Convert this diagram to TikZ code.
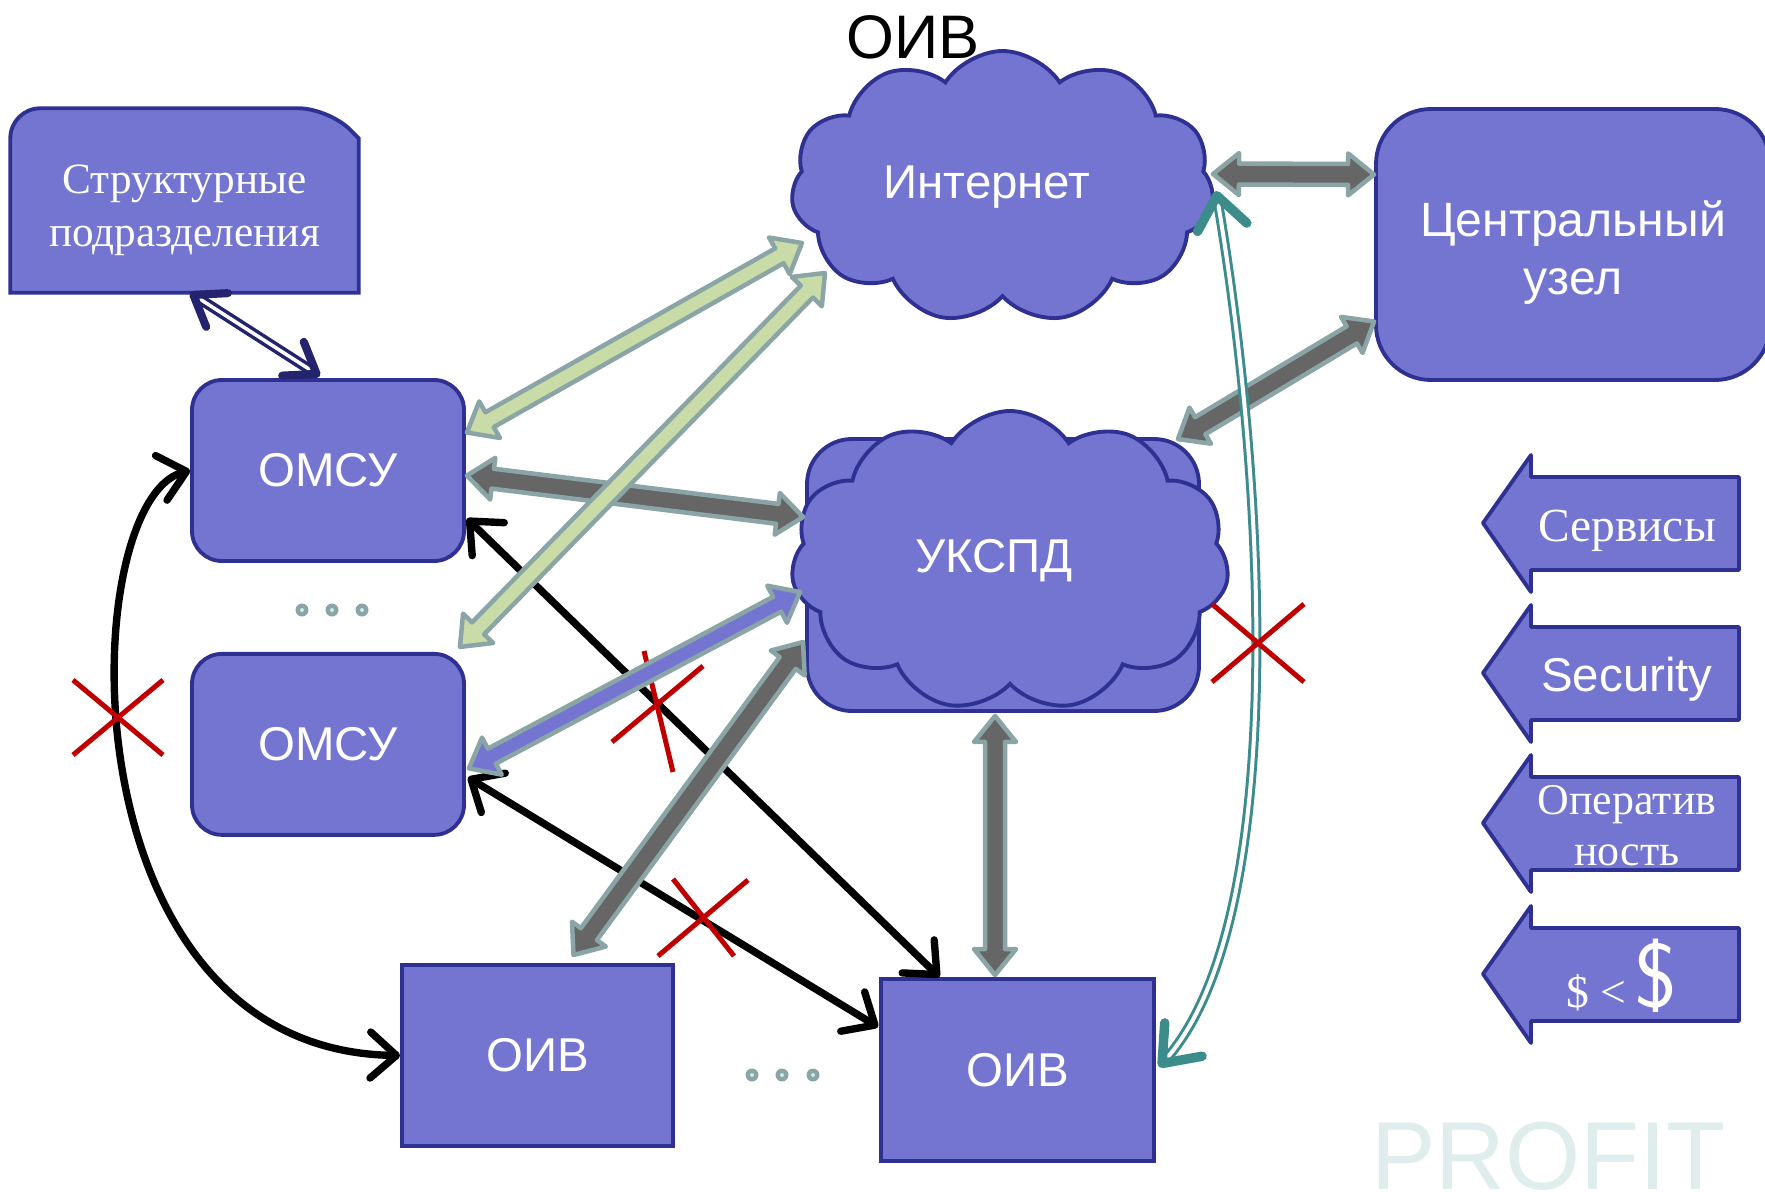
\documentclass[tikz,border=0pt]{standalone}
\usepackage{fontspec}
\setmainfont{Liberation Sans}
\newfontfamily\serifru{Liberation Serif}
\usetikzlibrary{arrows.meta,calc,positioning,shapes.symbols,backgrounds}

\definecolor{boxfill}{RGB}{116,117,208}
\definecolor{boxline}{RGB}{46,49,146}
\definecolor{rimgray}{RGB}{139,165,167}
\definecolor{pipegray}{RGB}{102,102,102}
\definecolor{pipegreen}{RGB}{201,219,167}
\definecolor{crossred}{RGB}{192,0,0}
\definecolor{tealline}{RGB}{61,140,140}
\definecolor{navyline}{RGB}{35,35,110}
\definecolor{dotcenter}{RGB}{200,235,235}
\definecolor{markfaint}{RGB}{224,237,237}

% fat two-headed pipe: style, shaft half width, head half width, from, to
\newcommand{\fatlink}[5]{%
  \draw[#1] let \p1=($(#5)-(#4)$), \n1={atan2(\y1,\x1)} in
    (#4) -- ($(#4)+(\n1:2.6mm)+(\n1+90:#3)$) -- ($(#4)+(\n1:2.6mm)+(\n1+90:#2)$)
    -- ($(#5)+(\n1+180:2.6mm)+(\n1+90:#2)$) -- ($(#5)+(\n1+180:2.6mm)+(\n1+90:#3)$)
    -- (#5) -- ($(#5)+(\n1+180:2.6mm)+(\n1-90:#3)$) -- ($(#5)+(\n1+180:2.6mm)+(\n1-90:#2)$)
    -- ($(#4)+(\n1:2.6mm)+(\n1-90:#2)$) -- ($(#4)+(\n1:2.6mm)+(\n1-90:#3)$) -- cycle;}

\begin{document}
\begin{tikzpicture}[x=0.1mm,y=-0.1mm,
  box/.style={draw=boxline,fill=boxfill,line width=1.1pt,text=white,align=center,inner sep=0pt,font=\fontsize{13.5}{16}\selectfont},
  rbox/.style={box,rounded corners=3mm},
  puff/.style={box,cloud,cloud puffs=11,cloud puff arc=115,cloud ignores aspect},
  serifbox/.style={text=white,align=center,font=\serifru\fontsize{12.5}{14.5}\selectfont},
  pipegray/.style={fill=pipegray,draw=rimgray,line width=0.45mm,line join=round},
  pipegreen/.style={fill=pipegreen,draw=rimgray,line width=0.45mm,line join=round},
  pipeblue/.style={fill=boxfill,draw=rimgray,line width=0.45mm,line join=round},
  blink/.style={black,line width=2.1pt,>={Straight Barb[length=2.6mm,width=4.6mm,round]},<->},
  tlink/.style={tealline,double=white,double distance=0.4mm,line width=0.3mm,>={Straight Barb[length=3.2mm,width=5mm,line width=2.7pt,round]},<->},
  nlink/.style={navyline,double=white,double distance=0.35mm,line width=0.35mm,>={Straight Barb[length=2.8mm,width=4mm,line width=2.3pt,round]},<->},
  cross/.style={crossred,line width=0.5mm},
  sidearrow/.style={draw=boxline,fill=boxfill,line width=1.1pt,line join=round}]

\useasboundingbox (0,0) rectangle (1765,1191);

\node[minimum width=34.7mm,minimum height=18.3mm] (struct) at (184.5,200.5) {};
\begin{pgfonlayer}{background}
\draw[box] (struct.south west) [rounded corners=3mm] -- (struct.north west) -- ($(struct.north east)+(-30,0)$) [sharp corners] -- ($(struct.north east)+(0,30)$) -- (struct.south east) -- cycle;
\end{pgfonlayer}
\node[serifbox,font=\serifru\fontsize{12.3}{15}\selectfont] (structlbl) at (184.5,210) {Структурные\\подразделения};

\node[rbox,minimum width=27.2mm,minimum height=18.1mm] (omsuA) at (328,470.5) {ОМСУ};
\node[rbox,minimum width=27.2mm,minimum height=18.1mm,below=8.9mm of omsuA] (omsuB) {ОМСУ};
\node[box,minimum width=27.1mm,minimum height=18.1mm] (oivA) at (537.5,1055.5) {ОИВ};
\node[box,minimum width=27.3mm,minimum height=18.2mm] (oivB) at (1017.5,1070) {ОИВ};
\node[box,rounded corners=5.5mm,minimum width=39.4mm,minimum height=27.1mm] (centre) at (1573,244.5) {};
\node[text=white,align=center,font=\fontsize{13.7}{16.5}\selectfont] (centrelbl) at (1573,253) {Центральный\\узел};
\node[puff,minimum width=42.3mm,minimum height=27.2mm] (inet) at (1002.5,187) {\hspace*{-3.1mm}Интернет};
\node[box,rounded corners=4.5mm,minimum width=39.2mm,minimum height=27.2mm] (uksbase) at (1003,575) {};
\node[puff,minimum width=43.8mm,minimum height=30mm] (uks) at (1010,561) {\hspace*{-3.2mm}УКСПД};

% side arrows
\draw[sidearrow] (1483,523) -- ++(48,-68) -- ++(0,22) -- ++(208,0) -- ++(0,93) -- ++(-208,0) -- ++(0,22) -- cycle;
\draw[sidearrow] (1483,673) -- ++(48,-68) -- ++(0,22) -- ++(208,0) -- ++(0,93) -- ++(-208,0) -- ++(0,22) -- cycle;
\draw[sidearrow] (1483,823) -- ++(48,-68) -- ++(0,22) -- ++(208,0) -- ++(0,93) -- ++(-208,0) -- ++(0,22) -- cycle;
\draw[sidearrow] (1483,974) -- ++(48,-68) -- ++(0,22) -- ++(208,0) -- ++(0,93) -- ++(-208,0) -- ++(0,22) -- cycle;
\node[serifbox,font=\serifru\fontsize{13.5}{15}\selectfont] (svc) at (1627,531) {Сервисы};
\node[text=white,font=\fontsize{13.5}{16}\selectfont] (sec) at (1627,679) {Security};
\node[serifbox] (ops) at (1627,826) {Оператив\\ность};
\node[text=white,anchor=base,font=\serifru\fontsize{13}{15}\selectfont] (cost) at (1622,1007) {\$ <\,{\sffamily\fontsize{26}{26}\selectfont\$}};

% dots
\fill[rimgray] (302,610) circle (0.65mm) (332,610) circle (0.65mm) (362,610) circle (0.65mm);
\fill[rimgray] (752,1075) circle (0.65mm) (782,1075) circle (0.65mm) (813,1075) circle (0.65mm);
\fill[dotcenter] (302,610) circle (0.2mm) (332,610) circle (0.2mm) (362,610) circle (0.2mm);
\fill[dotcenter] (752,1075) circle (0.2mm) (782,1075) circle (0.2mm) (813,1075) circle (0.2mm);

% pipe ends
\coordinate (g1a) at ($(omsuA.east)+(1,-38)$);
\coordinate (g1b) at ($(inet.center)+(-200.5,56)$);
\coordinate (g2a) at ($(omsuB.north east)+(-6,-5)$);
\coordinate (g2b) at ($(inet.center)+(-177.5,86)$);
\coordinate (p1a) at ($(omsuA.east)+(1,5)$);
\coordinate (p1b) at ($(uksbase.west)+(-2,-58)$);
\coordinate (b1a) at ($(uksbase.west)+(-5,17)$);
\coordinate (b1b) at ($(omsuB.east)+(3,24)$);
\coordinate (p2a) at ($(uksbase.west)+(-2,67)$);
\coordinate (p2b) at ($(oivA.north)+(36,-8)$);
\coordinate (p3a) at ($(inet.center)+(210.5,-13)$);
\coordinate (p3b) at ($(centre.west)+(0,-70)$);
\coordinate (p4a) at ($(centre.west)+(0,77)$);
\coordinate (p4b) at ($(uksbase.north east)+(-23,2)$);
\coordinate (p5a) at ($(uksbase.south)+(-8,3)$);
\coordinate (p5b) at ($(oivB.north)+(-22.5,-2)$);

\draw[blink] ($(omsuA.east)+(1,48)$) -- ($(oivB.north)+(-78,0)$);
\draw[blink] ($(omsuB.east)+(2,33)$) -- ($(oivB.west)+(-1,-43)$);
\draw[blink] (omsuA.west) .. controls (75,500) and (60,1050) .. (oivA.west);

\draw[cross] (612,742) -- (703,666) (644,651) -- (673,772);

\fatlink{pipegray}{1mm}{2.1mm}{p1a}{p1b}
\fatlink{pipegreen}{0.85mm}{2.1mm}{g1a}{g1b}
\fatlink{pipegreen}{0.85mm}{2.1mm}{g2a}{g2b}
\fatlink{pipeblue}{0.85mm}{2.1mm}{b1a}{b1b}
\fatlink{pipegray}{1mm}{2.1mm}{p2a}{p2b}
\fatlink{pipegray}{1.05mm}{2.1mm}{p3a}{p3b}
\fatlink{pipegray}{1mm}{2.1mm}{p4a}{p4b}
\fatlink{pipegray}{1mm}{2.1mm}{p5a}{p5b}

\draw[tlink] ($(inet.center)+(213.5,4)$) .. controls (1265,480) and (1290,920) .. ($(oivB.east)+(3,-3)$);
\draw[nlink] ($(struct.south)+(5.5,0)$) -- ($(omsuA.north)+(-8,-2)$);

\draw[cross] (673,879) -- (734,956) (748,880) -- (658,956);
\draw[cross] (73,680) -- (163,755) (73,755) -- (163,680);
\draw[cross] (1212,604) -- (1304,682) (1212,682) -- (1304,604);

\node[anchor=base west,text=markfaint,font=\fontsize{27.5}{27.5}\selectfont] (mark) at (1359,1189) {PROFIT};
\node[font=\fontsize{17.5}{20}\selectfont] (title) at (913,37) {ОИВ};
\end{tikzpicture}
\end{document}
